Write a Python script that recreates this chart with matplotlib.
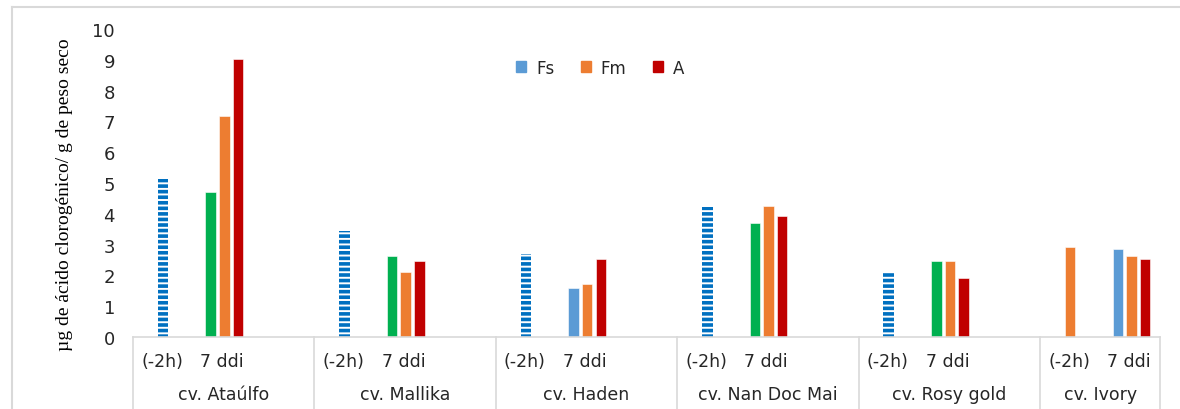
import matplotlib
matplotlib.use("Agg")
from matplotlib import pyplot as plt
from matplotlib.patches import Patch
from matplotlib.lines import Line2D
import numpy as np

cultivars = ["cv. Ataúlfo", "cv. Mallika", "cv. Haden", "cv. Nan Doc Mai", "cv. Rosy gold", "cv. Ivory"]
sub_labels = ["(-2h)", "7 ddi"]

# values (µg / g peso seco)
base_values = [5.13, 3.44, 2.70, 4.22, 2.12, 2.92]      # (-2h)
first_7ddi = [4.72, 2.63, 1.59, 3.70, 2.47, 2.87]       # Fs (blue) or green
fm_7ddi = [7.18, 2.12, 1.72, 4.26, 2.47, 2.63]
a_7ddi = [9.03, 2.48, 2.54, 3.93, 1.90, 2.54]
first_is_fs = [False, False, True, False, False, True]
base_striped = [True, True, True, True, True, False]

c_stripe = "#0070C0"
c_fs = "#5B9BD5"
c_green = "#00B050"
c_fm = "#ED7D31"
c_a = "#C00000"
c_grid = "#D9D9D9"

plt.rcParams['hatch.linewidth'] = 2.6
plt.rcParams['font.family'] = ['DejaVu Sans']

fig = plt.figure(figsize=(11.8, 4.1), dpi=100)
ax = fig.add_axes([133 / 1180, 1 - 338 / 410, 1027 / 1180, 308 / 410])

x = np.arange(len(cultivars))
w = 0.058
for i in range(len(cultivars)):
    if base_striped[i]:
        ax.bar(x[i] + 0.165, base_values[i], w, facecolor="white", edgecolor=c_stripe,
               hatch="---", linewidth=0)
    else:
        ax.bar(x[i] + 0.165, base_values[i], w, color=c_fm, edgecolor="white", linewidth=0.4)
    ax.bar(x[i] + 0.428, first_7ddi[i], w, color=c_fs if first_is_fs[i] else c_green,
           edgecolor="white", linewidth=0.4)
    ax.bar(x[i] + 0.503, fm_7ddi[i], w, color=c_fm, edgecolor="white", linewidth=0.4)
    ax.bar(x[i] + 0.578, a_7ddi[i], w, color=c_a, edgecolor="white", linewidth=0.4)

ax.set_xlim(0, 5.66)
ax.set_ylim(0, 10)
ax.set_yticks(range(0, 11))
ax.tick_params(axis='y', length=0, pad=13, labelsize=13, labelcolor="#262626")
ax.set_xticks([])
for s in ["top", "right", "left"]:
    ax.spines[s].set_visible(False)
ax.spines["bottom"].set_color(c_grid)
ax.spines["bottom"].set_linewidth(1.2)

# multi-level category axis
trans = ax.get_xaxis_transform()
for b in list(x) + [5.66]:
    ax.plot([b, b], [0, -0.24], color=c_grid, lw=1.2, transform=trans, clip_on=False)
for i, name in enumerate(cultivars):
    ax.text(x[i] + 0.16, -0.077, sub_labels[0], transform=trans, ha="center", va="center",
            fontsize=12.5, color="#262626")
    ax.text(x[i] + 0.49, -0.077, sub_labels[1], transform=trans, ha="center", va="center",
            fontsize=12.5, color="#262626")
    centre = (x[i] + min(x[i] + 1, 5.66)) / 2
    ax.text(centre, -0.185, name, transform=trans, ha="center", va="center",
            fontsize=12.5, color="#262626")

ax.set_ylabel("µg de ácido clorogénico/ g de peso seco", family="Liberation Serif",
              fontsize=14)
ax.yaxis.set_label_coords(-0.058, 0.465)

handles = [Patch(color=c_fs), Patch(color=c_fm), Patch(color=c_a)]
ax.legend(handles, ["Fs", "Fm", "A"], loc="center", bbox_to_anchor=(0.455, 0.875), ncol=3,
          frameon=False, fontsize=12, handlelength=0.6, handleheight=0.6, columnspacing=1.6,
          handletextpad=0.6, labelcolor="#262626")

# outer chart frame
fig.add_artist(Line2D([12 / 1180, 12 / 1180], [0, 1 - 8 / 410], color=c_grid, lw=1.5))
fig.add_artist(Line2D([12 / 1180, 1], [1 - 8 / 410, 1 - 8 / 410], color=c_grid, lw=1.5))

fig.savefig("out.png", dpi=100)
